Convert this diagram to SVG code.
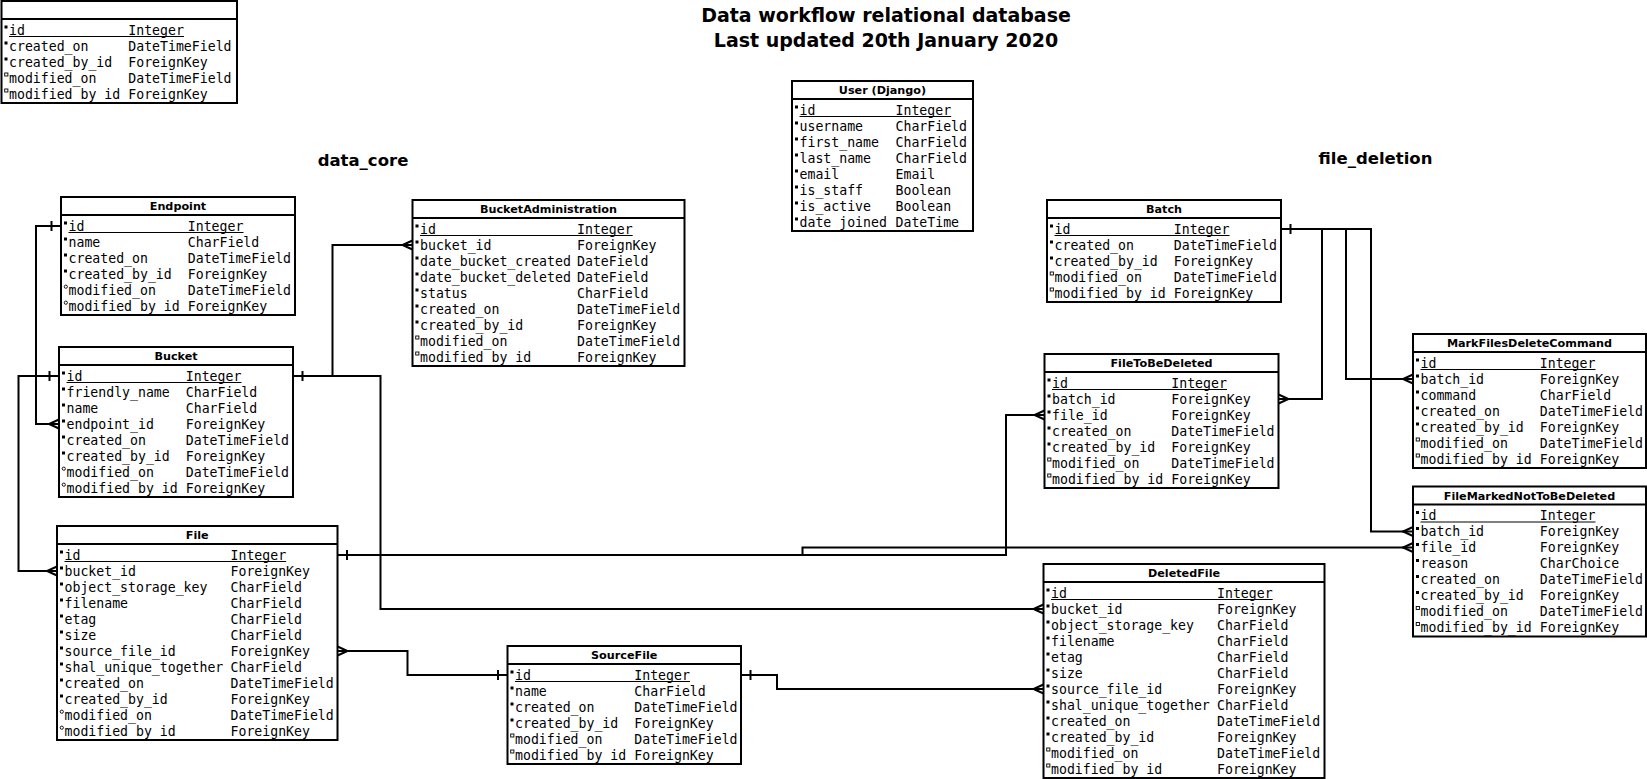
<svg xmlns="http://www.w3.org/2000/svg" xmlns:xlink="http://www.w3.org/1999/xlink" width="1647" height="779" viewBox="0 0 1647 779">
<style>
.box{fill:#fff;stroke:#000;stroke-width:2}
.sep{stroke:#000;stroke-width:2}
.hdr{font-family:"DejaVu Sans","Liberation Sans",sans-serif;font-weight:bold;font-size:11.2px;text-anchor:middle;fill:#000}
.f{font-family:"DejaVu Sans Mono","Liberation Mono",monospace;font-size:13.2px;fill:#000}
.ul{stroke:#000;stroke-width:1}
.c{fill:none;stroke:#000;stroke-width:2}
.title{font-family:"DejaVu Sans","Liberation Sans",sans-serif;font-weight:bold;font-size:19px;text-anchor:middle;fill:#000}
.sec{font-family:"DejaVu Sans","Liberation Sans",sans-serif;font-weight:bold;font-size:16.5px;text-anchor:middle;fill:#000}
</style>
<defs>
<rect id="mf" x="3" y="-4.5" width="3" height="3" fill="#000"/>
<rect id="ms" x="3.2" y="-5" width="3.2" height="3" fill="#fff" stroke="#000" stroke-width="0.9"/>
<circle id="mc" cx="4.8" cy="-3.3" r="1.6" fill="#fff" stroke="#000" stroke-width="0.9"/>
</defs>
<rect x="0" y="0" width="1647" height="779" fill="#fff"/>

<g id="title">
<text class="title" x="886" y="22">Data workflow relational database</text>
<text class="title" x="886" y="46.5">Last updated 20th January 2020</text>
</g>
<g id="section-labels">
<text class="sec" x="363" y="165.5">data_core</text>
<text class="sec" x="1375.5" y="163.5">file_deletion</text>
</g>

<g id="connectors">
<path class="c" d="M61,226 H36 V424 H59"/>
<path class="c" d="M51.5,221 V231"/>
<path class="c" d="M59,419.5 L49,424 L59,428.5"/>

<path class="c" d="M59,376 H18.5 V571 H57"/>
<path class="c" d="M49.5,371 V381"/>
<path class="c" d="M57,566.5 L47,571 L57,575.5"/>

<path class="c" d="M293,376 H332.5 V245 H412.5"/>
<path class="c" d="M302.5,371 V381"/>
<path class="c" d="M412.5,240.5 L402.5,245 L412.5,249.5"/>

<path class="c" d="M293,376 H380.5 V609 H1043.5"/>
<path class="c" d="M1043.5,604.5 L1033.5,609 L1043.5,613.5"/>

<path class="c" d="M337.5,555 H1006 V415 H1044.5"/>
<path class="c" d="M347,550 V560"/>
<path class="c" d="M1044.5,410.5 L1034.5,415 L1044.5,419.5"/>

<path class="c" d="M337.5,555 H802.5 V547.5 H1413"/>
<path class="c" d="M1413,543 L1403,547.5 L1413,552"/>

<path class="c" d="M337.5,651 H407.5 V675 H507.5"/>
<path class="c" d="M337.5,646.5 L347.5,651 L337.5,655.5"/>
<path class="c" d="M498,670 V680"/>

<path class="c" d="M741,675 H777 V689 H1043.5"/>
<path class="c" d="M750.5,670 V680"/>
<path class="c" d="M1043.5,684.5 L1033.5,689 L1043.5,693.5"/>

<path class="c" d="M1281,229 H1322 V399 H1278.5"/>
<path class="c" d="M1290.5,224 V234"/>
<path class="c" d="M1278.5,394.5 L1288.5,399 L1278.5,403.5"/>

<path class="c" d="M1281,229 H1346 V379 H1413"/>
<path class="c" d="M1413,374.5 L1403,379 L1413,383.5"/>

<path class="c" d="M1281,229 H1371 V531.5 H1413"/>
<path class="c" d="M1413,527 L1403,531.5 L1413,536"/>
</g>

<g id="audit-fields" transform="translate(1.5,1)">
<rect class="box" x="0" y="0" width="235.5" height="102"/>
<line class="sep" x1="0" y1="18" x2="235.5" y2="18"/>
<use href="#mf" y="29"/><use href="#mf" y="45"/><use href="#mf" y="61"/><use href="#ms" y="77"/><use href="#ms" y="93"/>
<line class="ul" x1="7.5" y1="35.5" x2="182.5" y2="35.5"/>
<text class="f" y="33.5"><tspan x="7.5">id</tspan><tspan x="126.8">Integer</tspan></text>
<text class="f" y="49.5"><tspan x="7.5">created_on</tspan><tspan x="126.8">DateTimeField</tspan></text>
<text class="f" y="65.5"><tspan x="7.5">created_by_id</tspan><tspan x="126.8">ForeignKey</tspan></text>
<text class="f" y="81.5"><tspan x="7.5">modified_on</tspan><tspan x="126.8">DateTimeField</tspan></text>
<text class="f" y="97.5"><tspan x="7.5">modified_by_id</tspan><tspan x="126.8">ForeignKey</tspan></text>
</g>

<g id="endpoint" transform="translate(61,197)">
<rect class="box" x="0" y="0" width="234" height="118"/>
<line class="sep" x1="0" y1="18" x2="234" y2="18"/>
<text class="hdr" x="117" y="13">Endpoint</text>
<use href="#mf" y="29"/><use href="#mf" y="45"/><use href="#mf" y="61"/><use href="#mf" y="77"/><use href="#mc" y="93"/><use href="#mc" y="109"/>
<line class="ul" x1="7.5" y1="35.5" x2="182.5" y2="35.5"/>
<text class="f" y="33.5"><tspan x="7.5">id</tspan><tspan x="126.8">Integer</tspan></text>
<text class="f" y="49.5"><tspan x="7.5">name</tspan><tspan x="126.8">CharField</tspan></text>
<text class="f" y="65.5"><tspan x="7.5">created_on</tspan><tspan x="126.8">DateTimeField</tspan></text>
<text class="f" y="81.5"><tspan x="7.5">created_by_id</tspan><tspan x="126.8">ForeignKey</tspan></text>
<text class="f" y="97.5"><tspan x="7.5">modified_on</tspan><tspan x="126.8">DateTimeField</tspan></text>
<text class="f" y="113.5"><tspan x="7.5">modified_by_id</tspan><tspan x="126.8">ForeignKey</tspan></text>
</g>

<g id="bucket" transform="translate(59,347)">
<rect class="box" x="0" y="0" width="234" height="150"/>
<line class="sep" x1="0" y1="18" x2="234" y2="18"/>
<text class="hdr" x="117" y="13">Bucket</text>
<use href="#mf" y="29"/><use href="#mf" y="45"/><use href="#mf" y="61"/><use href="#mf" y="77"/><use href="#mf" y="93"/><use href="#mf" y="109"/><use href="#mc" y="125"/><use href="#mc" y="141"/>
<line class="ul" x1="7.5" y1="35.5" x2="182.5" y2="35.5"/>
<text class="f" y="33.5"><tspan x="7.5">id</tspan><tspan x="126.8">Integer</tspan></text>
<text class="f" y="49.5"><tspan x="7.5">friendly_name</tspan><tspan x="126.8">CharField</tspan></text>
<text class="f" y="65.5"><tspan x="7.5">name</tspan><tspan x="126.8">CharField</tspan></text>
<text class="f" y="81.5"><tspan x="7.5">endpoint_id</tspan><tspan x="126.8">ForeignKey</tspan></text>
<text class="f" y="97.5"><tspan x="7.5">created_on</tspan><tspan x="126.8">DateTimeField</tspan></text>
<text class="f" y="113.5"><tspan x="7.5">created_by_id</tspan><tspan x="126.8">ForeignKey</tspan></text>
<text class="f" y="129.5"><tspan x="7.5">modified_on</tspan><tspan x="126.8">DateTimeField</tspan></text>
<text class="f" y="145.5"><tspan x="7.5">modified_by_id</tspan><tspan x="126.8">ForeignKey</tspan></text>
</g>

<g id="file" transform="translate(57,526)">
<rect class="box" x="0" y="0" width="280.5" height="214"/>
<line class="sep" x1="0" y1="18" x2="280.5" y2="18"/>
<text class="hdr" x="140.25" y="13">File</text>
<use href="#mf" y="29"/><use href="#mf" y="45"/><use href="#mf" y="61"/><use href="#mf" y="77"/><use href="#mf" y="93"/><use href="#mf" y="109"/><use href="#mf" y="125"/><use href="#mf" y="141"/><use href="#mf" y="157"/><use href="#mf" y="173"/><use href="#mc" y="189"/><use href="#mc" y="205"/>
<line class="ul" x1="7.5" y1="35.5" x2="229.2" y2="35.5"/>
<text class="f" y="33.5"><tspan x="7.5">id</tspan><tspan x="173.5">Integer</tspan></text>
<text class="f" y="49.5"><tspan x="7.5">bucket_id</tspan><tspan x="173.5">ForeignKey</tspan></text>
<text class="f" y="65.5"><tspan x="7.5">object_storage_key</tspan><tspan x="173.5">CharField</tspan></text>
<text class="f" y="81.5"><tspan x="7.5">filename</tspan><tspan x="173.5">CharField</tspan></text>
<text class="f" y="97.5"><tspan x="7.5">etag</tspan><tspan x="173.5">CharField</tspan></text>
<text class="f" y="113.5"><tspan x="7.5">size</tspan><tspan x="173.5">CharField</tspan></text>
<text class="f" y="129.5"><tspan x="7.5">source_file_id</tspan><tspan x="173.5">ForeignKey</tspan></text>
<text class="f" y="145.5"><tspan x="7.5">shal_unique_together</tspan><tspan x="173.5">CharField</tspan></text>
<text class="f" y="161.5"><tspan x="7.5">created_on</tspan><tspan x="173.5">DateTimeField</tspan></text>
<text class="f" y="177.5"><tspan x="7.5">created_by_id</tspan><tspan x="173.5">ForeignKey</tspan></text>
<text class="f" y="193.5"><tspan x="7.5">modified_on</tspan><tspan x="173.5">DateTimeField</tspan></text>
<text class="f" y="209.5"><tspan x="7.5">modified_by_id</tspan><tspan x="173.5">ForeignKey</tspan></text>
</g>

<g id="bucket-administration" transform="translate(412.5,200)">
<rect class="box" x="0" y="0" width="272" height="166"/>
<line class="sep" x1="0" y1="18" x2="272" y2="18"/>
<text class="hdr" x="136" y="13">BucketAdministration</text>
<use href="#mf" y="29"/><use href="#mf" y="45"/><use href="#mf" y="61"/><use href="#mf" y="77"/><use href="#mf" y="93"/><use href="#mf" y="109"/><use href="#mf" y="125"/><use href="#ms" y="141"/><use href="#ms" y="157"/>
<line class="ul" x1="7.5" y1="35.5" x2="220.2" y2="35.5"/>
<text class="f" y="33.5"><tspan x="7.5">id</tspan><tspan x="164.5">Integer</tspan></text>
<text class="f" y="49.5"><tspan x="7.5">bucket_id</tspan><tspan x="164.5">ForeignKey</tspan></text>
<text class="f" y="65.5"><tspan x="7.5">date_bucket_created</tspan><tspan x="164.5">DateField</tspan></text>
<text class="f" y="81.5"><tspan x="7.5">date_bucket_deleted</tspan><tspan x="164.5">DateField</tspan></text>
<text class="f" y="97.5"><tspan x="7.5">status</tspan><tspan x="164.5">CharField</tspan></text>
<text class="f" y="113.5"><tspan x="7.5">created_on</tspan><tspan x="164.5">DateTimeField</tspan></text>
<text class="f" y="129.5"><tspan x="7.5">created_by_id</tspan><tspan x="164.5">ForeignKey</tspan></text>
<text class="f" y="145.5"><tspan x="7.5">modified_on</tspan><tspan x="164.5">DateTimeField</tspan></text>
<text class="f" y="161.5"><tspan x="7.5">modified_by_id</tspan><tspan x="164.5">ForeignKey</tspan></text>
</g>

<g id="user-django" transform="translate(792,81)">
<rect class="box" x="0" y="0" width="181" height="150"/>
<line class="sep" x1="0" y1="18" x2="181" y2="18"/>
<text class="hdr" x="90.5" y="13">User (Django)</text>
<use href="#mf" y="29"/><use href="#mf" y="45"/><use href="#mf" y="61"/><use href="#mf" y="77"/><use href="#mf" y="93"/><use href="#mf" y="109"/><use href="#mf" y="125"/><use href="#mf" y="141"/>
<line class="ul" x1="7.5" y1="35.5" x2="159.2" y2="35.5"/>
<text class="f" y="33.5"><tspan x="7.5">id</tspan><tspan x="103.5">Integer</tspan></text>
<text class="f" y="49.5"><tspan x="7.5">username</tspan><tspan x="103.5">CharField</tspan></text>
<text class="f" y="65.5"><tspan x="7.5">first_name</tspan><tspan x="103.5">CharField</tspan></text>
<text class="f" y="81.5"><tspan x="7.5">last_name</tspan><tspan x="103.5">CharField</tspan></text>
<text class="f" y="97.5"><tspan x="7.5">email</tspan><tspan x="103.5">Email</tspan></text>
<text class="f" y="113.5"><tspan x="7.5">is_staff</tspan><tspan x="103.5">Boolean</tspan></text>
<text class="f" y="129.5"><tspan x="7.5">is_active</tspan><tspan x="103.5">Boolean</tspan></text>
<text class="f" y="145.5"><tspan x="7.5">date_joined</tspan><tspan x="103.5">DateTime</tspan></text>
</g>

<g id="batch" transform="translate(1047,200)">
<rect class="box" x="0" y="0" width="234" height="102"/>
<line class="sep" x1="0" y1="18" x2="234" y2="18"/>
<text class="hdr" x="117" y="13">Batch</text>
<use href="#mf" y="29"/><use href="#mf" y="45"/><use href="#mf" y="61"/><use href="#ms" y="77"/><use href="#ms" y="93"/>
<line class="ul" x1="7.5" y1="35.5" x2="182.5" y2="35.5"/>
<text class="f" y="33.5"><tspan x="7.5">id</tspan><tspan x="126.8">Integer</tspan></text>
<text class="f" y="49.5"><tspan x="7.5">created_on</tspan><tspan x="126.8">DateTimeField</tspan></text>
<text class="f" y="65.5"><tspan x="7.5">created_by_id</tspan><tspan x="126.8">ForeignKey</tspan></text>
<text class="f" y="81.5"><tspan x="7.5">modified_on</tspan><tspan x="126.8">DateTimeField</tspan></text>
<text class="f" y="97.5"><tspan x="7.5">modified_by_id</tspan><tspan x="126.8">ForeignKey</tspan></text>
</g>

<g id="file-to-be-deleted" transform="translate(1044.5,354)">
<rect class="box" x="0" y="0" width="234" height="134"/>
<line class="sep" x1="0" y1="18" x2="234" y2="18"/>
<text class="hdr" x="117" y="13">FileToBeDeleted</text>
<use href="#mf" y="29"/><use href="#mf" y="45"/><use href="#mf" y="61"/><use href="#mf" y="77"/><use href="#mf" y="93"/><use href="#ms" y="109"/><use href="#ms" y="125"/>
<line class="ul" x1="7.5" y1="35.5" x2="182.5" y2="35.5"/>
<text class="f" y="33.5"><tspan x="7.5">id</tspan><tspan x="126.8">Integer</tspan></text>
<text class="f" y="49.5"><tspan x="7.5">batch_id</tspan><tspan x="126.8">ForeignKey</tspan></text>
<text class="f" y="65.5"><tspan x="7.5">file_id</tspan><tspan x="126.8">ForeignKey</tspan></text>
<text class="f" y="81.5"><tspan x="7.5">created_on</tspan><tspan x="126.8">DateTimeField</tspan></text>
<text class="f" y="97.5"><tspan x="7.5">created_by_id</tspan><tspan x="126.8">ForeignKey</tspan></text>
<text class="f" y="113.5"><tspan x="7.5">modified_on</tspan><tspan x="126.8">DateTimeField</tspan></text>
<text class="f" y="129.5"><tspan x="7.5">modified_by_id</tspan><tspan x="126.8">ForeignKey</tspan></text>
</g>

<g id="mark-files-delete-command" transform="translate(1413,334)">
<rect class="box" x="0" y="0" width="233" height="134"/>
<line class="sep" x1="0" y1="18" x2="233" y2="18"/>
<text class="hdr" x="116.5" y="13">MarkFilesDeleteCommand</text>
<use href="#mf" y="29"/><use href="#mf" y="45"/><use href="#mf" y="61"/><use href="#mf" y="77"/><use href="#mf" y="93"/><use href="#ms" y="109"/><use href="#ms" y="125"/>
<line class="ul" x1="7.5" y1="35.5" x2="182.5" y2="35.5"/>
<text class="f" y="33.5"><tspan x="7.5">id</tspan><tspan x="126.8">Integer</tspan></text>
<text class="f" y="49.5"><tspan x="7.5">batch_id</tspan><tspan x="126.8">ForeignKey</tspan></text>
<text class="f" y="65.5"><tspan x="7.5">command</tspan><tspan x="126.8">CharField</tspan></text>
<text class="f" y="81.5"><tspan x="7.5">created_on</tspan><tspan x="126.8">DateTimeField</tspan></text>
<text class="f" y="97.5"><tspan x="7.5">created_by_id</tspan><tspan x="126.8">ForeignKey</tspan></text>
<text class="f" y="113.5"><tspan x="7.5">modified_on</tspan><tspan x="126.8">DateTimeField</tspan></text>
<text class="f" y="129.5"><tspan x="7.5">modified_by_id</tspan><tspan x="126.8">ForeignKey</tspan></text>
</g>

<g id="file-marked-not-to-be-deleted" transform="translate(1413,486.5)">
<rect class="box" x="0" y="0" width="233" height="150"/>
<line class="sep" x1="0" y1="18" x2="233" y2="18"/>
<text class="hdr" x="116.5" y="13">FileMarkedNotToBeDeleted</text>
<use href="#mf" y="29"/><use href="#mf" y="45"/><use href="#mf" y="61"/><use href="#mf" y="77"/><use href="#mf" y="93"/><use href="#mf" y="109"/><use href="#ms" y="125"/><use href="#ms" y="141"/>
<line class="ul" x1="7.5" y1="35.5" x2="182.5" y2="35.5"/>
<text class="f" y="33.5"><tspan x="7.5">id</tspan><tspan x="126.8">Integer</tspan></text>
<text class="f" y="49.5"><tspan x="7.5">batch_id</tspan><tspan x="126.8">ForeignKey</tspan></text>
<text class="f" y="65.5"><tspan x="7.5">file_id</tspan><tspan x="126.8">ForeignKey</tspan></text>
<text class="f" y="81.5"><tspan x="7.5">reason</tspan><tspan x="126.8">CharChoice</tspan></text>
<text class="f" y="97.5"><tspan x="7.5">created_on</tspan><tspan x="126.8">DateTimeField</tspan></text>
<text class="f" y="113.5"><tspan x="7.5">created_by_id</tspan><tspan x="126.8">ForeignKey</tspan></text>
<text class="f" y="129.5"><tspan x="7.5">modified_on</tspan><tspan x="126.8">DateTimeField</tspan></text>
<text class="f" y="145.5"><tspan x="7.5">modified_by_id</tspan><tspan x="126.8">ForeignKey</tspan></text>
</g>

<g id="deleted-file" transform="translate(1043.5,564)">
<rect class="box" x="0" y="0" width="281" height="214"/>
<line class="sep" x1="0" y1="18" x2="281" y2="18"/>
<text class="hdr" x="140.5" y="13">DeletedFile</text>
<use href="#mf" y="29"/><use href="#mf" y="45"/><use href="#mf" y="61"/><use href="#mf" y="77"/><use href="#mf" y="93"/><use href="#mf" y="109"/><use href="#mf" y="125"/><use href="#mf" y="141"/><use href="#mf" y="157"/><use href="#mf" y="173"/><use href="#ms" y="189"/><use href="#ms" y="205"/>
<line class="ul" x1="7.5" y1="35.5" x2="229.2" y2="35.5"/>
<text class="f" y="33.5"><tspan x="7.5">id</tspan><tspan x="173.5">Integer</tspan></text>
<text class="f" y="49.5"><tspan x="7.5">bucket_id</tspan><tspan x="173.5">ForeignKey</tspan></text>
<text class="f" y="65.5"><tspan x="7.5">object_storage_key</tspan><tspan x="173.5">CharField</tspan></text>
<text class="f" y="81.5"><tspan x="7.5">filename</tspan><tspan x="173.5">CharField</tspan></text>
<text class="f" y="97.5"><tspan x="7.5">etag</tspan><tspan x="173.5">CharField</tspan></text>
<text class="f" y="113.5"><tspan x="7.5">size</tspan><tspan x="173.5">CharField</tspan></text>
<text class="f" y="129.5"><tspan x="7.5">source_file_id</tspan><tspan x="173.5">ForeignKey</tspan></text>
<text class="f" y="145.5"><tspan x="7.5">shal_unique_together</tspan><tspan x="173.5">CharField</tspan></text>
<text class="f" y="161.5"><tspan x="7.5">created_on</tspan><tspan x="173.5">DateTimeField</tspan></text>
<text class="f" y="177.5"><tspan x="7.5">created_by_id</tspan><tspan x="173.5">ForeignKey</tspan></text>
<text class="f" y="193.5"><tspan x="7.5">modified_on</tspan><tspan x="173.5">DateTimeField</tspan></text>
<text class="f" y="209.5"><tspan x="7.5">modified_by_id</tspan><tspan x="173.5">ForeignKey</tspan></text>
</g>

<g id="source-file" transform="translate(507.5,646)">
<rect class="box" x="0" y="0" width="233.5" height="118"/>
<line class="sep" x1="0" y1="18" x2="233.5" y2="18"/>
<text class="hdr" x="116.75" y="13">SourceFile</text>
<use href="#mf" y="29"/><use href="#mf" y="45"/><use href="#mf" y="61"/><use href="#mf" y="77"/><use href="#ms" y="93"/><use href="#ms" y="109"/>
<line class="ul" x1="7.5" y1="35.5" x2="182.5" y2="35.5"/>
<text class="f" y="33.5"><tspan x="7.5">id</tspan><tspan x="126.8">Integer</tspan></text>
<text class="f" y="49.5"><tspan x="7.5">name</tspan><tspan x="126.8">CharField</tspan></text>
<text class="f" y="65.5"><tspan x="7.5">created_on</tspan><tspan x="126.8">DateTimeField</tspan></text>
<text class="f" y="81.5"><tspan x="7.5">created_by_id</tspan><tspan x="126.8">ForeignKey</tspan></text>
<text class="f" y="97.5"><tspan x="7.5">modified_on</tspan><tspan x="126.8">DateTimeField</tspan></text>
<text class="f" y="113.5"><tspan x="7.5">modified_by_id</tspan><tspan x="126.8">ForeignKey</tspan></text>
</g>
</svg>
